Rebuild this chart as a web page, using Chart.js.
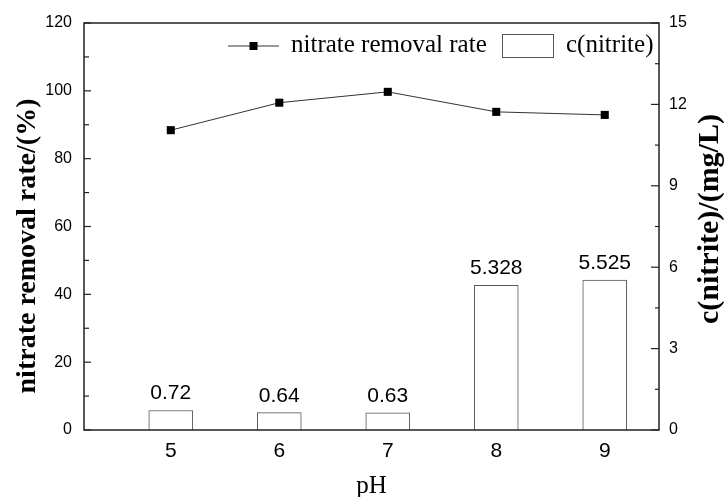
<!DOCTYPE html>
<html><head><meta charset="utf-8">
<script src="https://cdn.jsdelivr.net/npm/chart.js@4/dist/chart.umd.min.js"></script>
<style>html,body{margin:0;padding:0;background:#fff;}#wrap{width:724px;height:497px;}</style>
</head><body><div id="wrap"><canvas id="c" width="724" height="497"></canvas></div>
<script>
const phLevels = [5, 6, 7, 8, 9];
const removalRate = [88.4, 96.5, 99.7, 93.8, 92.9];
const nitriteConc = [0.72, 0.64, 0.63, 5.328, 5.525];
const nitriteLabels = ['0.72', '0.64', '0.63', '5.328', '5.525'];
const leftTicks = [0, 20, 40, 60, 80, 100, 120];
const leftMinorTicks = [10, 30, 50, 70, 90, 110];
const rightTicks = [0, 3, 6, 9, 12, 15];
const rightMinorTicks = [1.5, 4.5, 7.5, 10.5, 13.5];
const seriesNames = ['nitrate removal rate', 'c(nitrite)'];
const xTitle = 'pH';
const leftTitle = 'nitrate removal rate/(%)';
const rightTitle = 'c(nitrite)/(mg/L)';

const SERIF = '"Liberation Serif", "Times New Roman", serif';
const SANS = '"Liberation Sans", Arial, sans-serif';

function seg(ctx, x1, y1, x2, y2) { ctx.beginPath(); ctx.moveTo(x1, y1); ctx.lineTo(x2, y2); ctx.stroke(); }

const framePlugin = {
  id: 'frame',
  afterDraw(chart) {
    const { ctx, chartArea: a, scales } = chart;
    ctx.save();
    ctx.strokeStyle = '#222';
    ctx.lineWidth = 1.5;
    ctx.strokeRect(a.left, a.top, a.right - a.left, a.bottom - a.top);
    ctx.lineWidth = 1.2;
    leftTicks.forEach(v => { const y = scales.y.getPixelForValue(v); seg(ctx, a.left, y, a.left + 7, y); });
    leftMinorTicks.forEach(v => { const y = scales.y.getPixelForValue(v); seg(ctx, a.left, y, a.left + 5, y); });
    rightTicks.forEach(v => { const y = scales.y1.getPixelForValue(v); seg(ctx, a.right, y, a.right - 8, y); });
    rightMinorTicks.forEach(v => { const y = scales.y1.getPixelForValue(v); seg(ctx, a.right, y, a.right - 4, y); });

    // bar value labels
    const meta = chart.getDatasetMeta(1);
    ctx.fillStyle = '#000';
    ctx.font = '21px ' + SANS;
    ctx.textAlign = 'center';
    ctx.textBaseline = 'alphabetic';
    meta.data.forEach((el, i) => ctx.fillText(nitriteLabels[i], el.x, el.y - 11));

    // axis titles (both read bottom-to-top)
    ctx.textAlign = 'center';
    ctx.textBaseline = 'middle';
    ctx.save();
    ctx.translate(28, 246);
    ctx.rotate(-Math.PI / 2);
    ctx.font = 'bold 28px ' + SERIF;
    ctx.fillText(leftTitle, 0, 0);
    ctx.restore();
    ctx.save();
    ctx.translate(710, 219);
    ctx.rotate(-Math.PI / 2);
    ctx.font = 'bold 30px ' + SERIF;
    ctx.fillText(rightTitle, 0, 0);
    ctx.restore();

    // legend (inside plot, top right)
    const ly = a.top + 23;
    ctx.strokeStyle = '#333';
    ctx.lineWidth = 1;
    seg(ctx, a.right - 431, ly, a.right - 380, ly);
    ctx.fillStyle = '#000';
    ctx.fillRect(a.right - 409.5, ly - 4, 8, 8);
    ctx.font = '25px ' + SERIF;
    ctx.textAlign = 'left';
    ctx.textBaseline = 'alphabetic';
    ctx.fillText(seriesNames[0], a.right - 368, ly + 6);
    ctx.strokeStyle = '#555';
    ctx.strokeRect(a.right - 156.5, a.top + 11.5, 51, 23);
    ctx.fillText(seriesNames[1], a.right - 93, ly + 6);
    ctx.restore();
  }
};

new Chart(document.getElementById('c'), {
  type: 'bar',
  data: {
    datasets: [
      {
        type: 'line', label: seriesNames[0],
        data: phLevels.map((x, i) => ({ x: x, y: removalRate[i] })),
        yAxisID: 'y', borderColor: '#333', borderWidth: 1, tension: 0,
        pointStyle: 'rect', pointRadius: 5.7, pointBackgroundColor: '#000',
        pointBorderColor: '#000', pointBorderWidth: 0, order: 0
      },
      {
        type: 'bar', label: seriesNames[1],
        data: phLevels.map((x, i) => ({ x: x, y: nitriteConc[i] })),
        yAxisID: 'y1', backgroundColor: '#fff', borderColor: '#555',
        borderWidth: 1, barThickness: 44, order: 1
      }
    ]
  },
  options: {
    responsive: false, animation: false, devicePixelRatio: 1,
    layout: { padding: { top: 23, left: 0, right: 0, bottom: 0 } },
    plugins: { legend: { display: false }, tooltip: { enabled: false } },
    scales: {
      x: {
        type: 'linear', position: 'bottom', min: 4.2, max: 9.5, offset: false,
        grid: { display: false, drawTicks: false }, border: { display: false },
        afterBuildTicks: s => { s.ticks = phLevels.map(v => ({ value: v })); },
        ticks: { padding: 9, color: '#000', font: { family: SANS, size: 21 }, maxRotation: 0, autoSkip: false, callback: v => String(v) },
        title: { display: true, text: xTitle, color: '#000', font: { family: SERIF, size: 25, lineHeight: 1 }, padding: { top: 0, bottom: -2 } },
        afterFit: s => { s.height = 67; }
      },
      y: {
        type: 'linear', position: 'left', min: 0, max: 120,
        grid: { display: false, drawTicks: false }, border: { display: false },
        afterBuildTicks: s => { s.ticks = leftTicks.map(v => ({ value: v })); },
        ticks: { padding: 12, color: '#000', font: { family: SANS, size: 16 } },
        afterFit: s => { s.width = 84; }
      },
      y1: {
        type: 'linear', position: 'right', min: 0, max: 15,
        grid: { display: false, drawTicks: false }, border: { display: false },
        afterBuildTicks: s => { s.ticks = rightTicks.map(v => ({ value: v })); },
        ticks: { padding: 10, color: '#000', font: { family: SANS, size: 16 } },
        afterFit: s => { s.width = 65; }
      }
    }
  },
  plugins: [framePlugin]
});
</script></body></html>
